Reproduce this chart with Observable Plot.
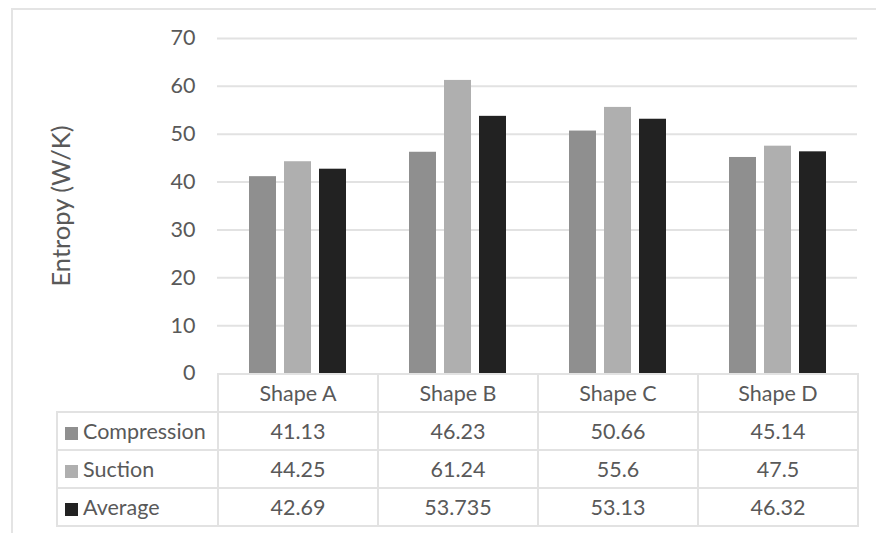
<!DOCTYPE html>
<html>
<head>
<meta charset="utf-8">
<script src="https://cdn.jsdelivr.net/npm/d3@7"></script>
<script src="https://cdn.jsdelivr.net/npm/@observablehq/plot@0.6"></script>
<style>
  html, body { margin: 0; padding: 0; background: #fff; }
  #wrap { position: relative; width: 876px; height: 533px; overflow: hidden; background: #fff;
          font-family: Lato, "Open Sans", sans-serif; color: #595959; }
  #frame { position: absolute; left: 11px; top: 8px; right: -4px; bottom: -4px;
           border-top: 2px solid #e4e4e4; border-left: 2px solid #e4e4e4; }
  #chart { position: absolute; left: 0; top: 0; }
  #datatable { position: absolute; left: 56px; top: 373px; border-collapse: collapse;
               table-layout: fixed; font-size: 21.5px; color: #595959; }
  #datatable td { border: 2px solid #e2e2e2; text-align: center; vertical-align: middle;
                  padding: 0; white-space: nowrap; }
  #datatable td.blank { border-top: none; border-left: none; }
  #datatable td.name { text-align: left; padding-left: 7px; }
  #datatable .key { display: inline-block; width: 13px; height: 13px; margin-right: 5px;
                    vertical-align: -1px; }
</style>
</head>
<body>
<div id="wrap">
  <div id="frame"></div>
  <div id="chart"></div>
  <table id="datatable"></table>
</div>
<script>
// Entropy generated per shape, split by compression and suction strokes
const shapes = ["Shape A", "Shape B", "Shape C", "Shape D"];
const seriesNames = ["Compression", "Suction", "Average"];
const compression = [41.13, 46.23, 50.66, 45.14];
const suction = [44.25, 61.24, 55.6, 47.5];
const average = [42.69, 53.735, 53.13, 46.32];
const seriesColors = ["#8f8f8f", "#afafaf", "#222222"];
const yTicks = [0, 10, 20, 30, 40, 50, 60, 70];

const seriesValues = [compression, suction, average];
const rows = shapes.flatMap((shape, i) =>
  seriesNames.map((name, j) => ({shape, series: name, value: seriesValues[j][i]}))
);

const chart = Plot.plot({
  width: 876,
  height: 392,
  marginLeft: 217,
  marginRight: 19,
  marginTop: 38,
  marginBottom: 19,
  style: {fontFamily: "Lato, 'Open Sans', sans-serif", fontSize: "21.5px", color: "#595959", background: "transparent"},
  fx: {domain: shapes, padding: 0, axis: null},
  x: {domain: seriesNames, paddingInner: 0.229, paddingOuter: 0.9, axis: null},
  y: {domain: [0, 70], ticks: yTicks, tickSize: 0, tickPadding: 22,
      label: "Entropy (W/K)", labelAnchor: "center", labelOffset: 166, labelArrow: "none"},
  color: {domain: seriesNames, range: seriesColors},
  marks: [
    Plot.ruleY(yTicks.filter(t => t > 0), {stroke: "#e2e2e2", strokeWidth: 2}),
    Plot.barY(rows, {fx: "shape", x: "series", y: "value", fill: "series"})
  ]
});
document.getElementById("chart").appendChild(chart);
chart.querySelectorAll('[aria-label="y-axis label"] text').forEach(t => t.setAttribute("font-size", "25.5"));

// Data table under the columns
const table = d3.select("#datatable");
const colgroup = table.append("colgroup");
colgroup.append("col").style("width", "161px");
shapes.forEach(() => colgroup.append("col").style("width", "160px"));

const head = table.append("tr").style("height", "38px");
head.append("td").attr("class", "blank");
shapes.forEach(s => head.append("td").text(s));

seriesNames.forEach((name, j) => {
  const tr = table.append("tr").style("height", "38px");
  const cell = tr.append("td").attr("class", "name");
  cell.append("span").attr("class", "key").style("background", seriesColors[j]);
  cell.append("span").text(name);
  seriesValues[j].forEach(v => tr.append("td").text(String(v)));
});
</script>
</body>
</html>
